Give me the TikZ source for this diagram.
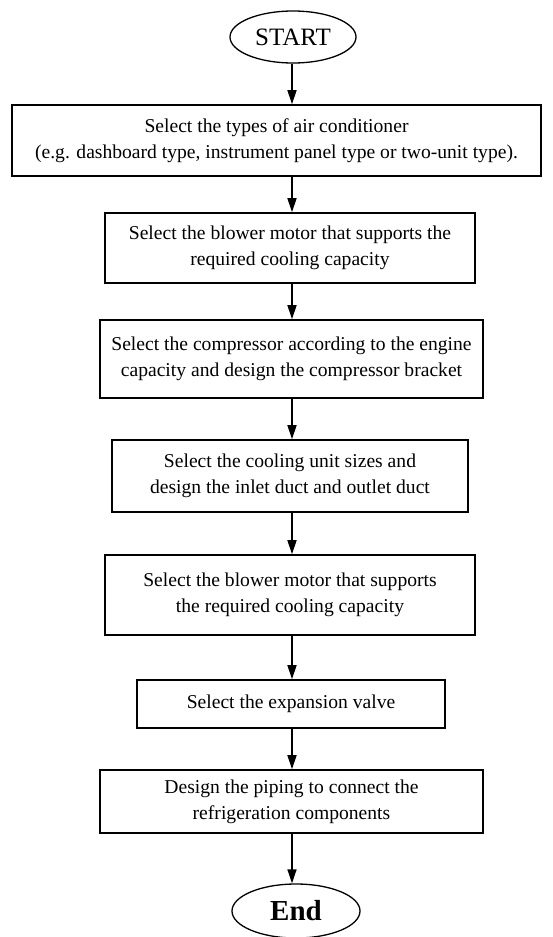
\documentclass[tikz,border=0pt]{standalone}
\usepackage{fontspec}
\setmainfont{Liberation Serif}
\usetikzlibrary{arrows.meta,shapes.geometric}
\begin{document}
\begin{tikzpicture}[x=1pt,y=-1pt,
  stepbox/.style={draw,line width=1.6pt,inner sep=0pt,align=center,font=\fontsize{19.6}{26}\selectfont},
  term/.style={draw,ellipse,line width=1.3pt,inner sep=0pt},
  arr/.style={line width=1.6pt,-{Triangle[length=14pt,width=9pt]}}]
\useasboundingbox (0,0) rectangle (553,937);
\coordinate (axis) at (292,0);
\node[term,minimum width=126pt,minimum height=52pt,font=\fontsize{25}{30}\selectfont] (start) at (293,37) {START};
\node[stepbox,minimum width=529pt,minimum height=71pt] (b1) at (276.5,140.5) {Select the types of air conditioner\\(e.g. dashboard type, instrument panel type or two-unit type).};
\node[stepbox,minimum width=370pt,minimum height=70pt] (b2) at (290,248) {Select the blower motor that supports the\\required cooling capacity};
\node[stepbox,minimum width=383pt,minimum height=78pt] (b3) at (291.5,359) {Select the compressor according to the engine\\capacity and design the compressor bracket};
\node[stepbox,minimum width=356pt,minimum height=72pt] (b4) at (290,476) {Select the cooling unit sizes and\\design the inlet duct and outlet duct};
\node[stepbox,minimum width=370pt,minimum height=80pt] (b5) at (290,595) {Select the blower motor that supports\\the required cooling capacity};
\node[stepbox,minimum width=308pt,minimum height=48pt] (b6) at (291,704) {Select the expansion valve};
\node[stepbox,minimum width=383pt,minimum height=63pt] (b7) at (291.5,801.5) {Design the piping to connect the\\refrigeration components};
\node[term,minimum width=128pt,minimum height=54pt,font=\fontsize{29}{34}\selectfont\bfseries] (end) at (296,911) {End};
\draw[arr] (start.south -| axis) -- (b1.north -| axis);
\draw[arr] (b1.south -| axis) -- (b2.north -| axis);
\draw[arr] (b2.south -| axis) -- (b3.north -| axis);
\draw[arr] (b3.south -| axis) -- (b4.north -| axis);
\draw[arr] (b4.south -| axis) -- (b5.north -| axis);
\draw[arr] (b5.south -| axis) -- (b6.north -| axis);
\draw[arr] (b6.south -| axis) -- (b7.north -| axis);
\draw[arr] (b7.south -| axis) -- (end.north -| axis);
\end{tikzpicture}
\end{document}
